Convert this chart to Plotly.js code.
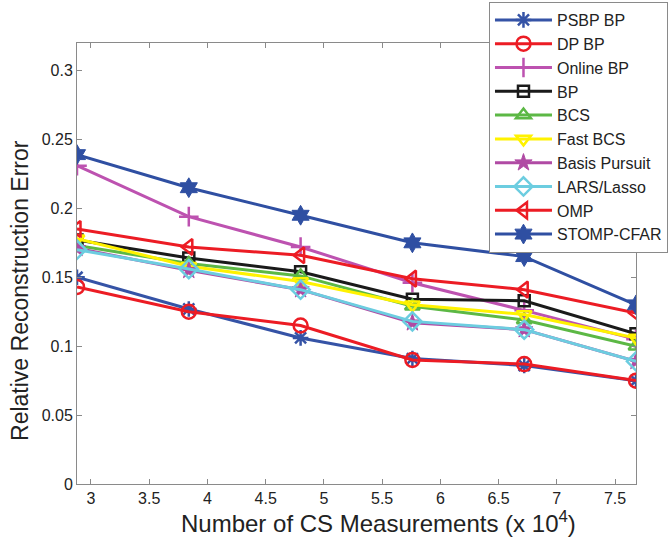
<!DOCTYPE html>
<html>
<head>
<meta charset="utf-8">
<script src="https://cdn.plot.ly/plotly-3.0.1.min.js"></script>
<style>
  html, body { margin: 0; padding: 0; background: #fff; }
  #chart { width: 668px; height: 542px; }
</style>
</head>
<body>
<div id="chart"></div>
<script>
// Number of CS measurements (units of 10^4)
const measurements = [2.88, 3.84, 4.80, 5.76, 6.72, 7.68];

// Relative reconstruction error per method
const psbpBP       = [0.150, 0.127, 0.106, 0.091, 0.086, 0.075];
const dpBP         = [0.143, 0.125, 0.115, 0.090, 0.087, 0.075];
const onlineBP     = [0.231, 0.194, 0.172, 0.146, 0.126, 0.105];
const plainBP      = [0.177, 0.164, 0.154, 0.134, 0.133, 0.109];
const bcs          = [0.173, 0.160, 0.151, 0.129, 0.119, 0.100];
const fastBCS      = [0.178, 0.158, 0.147, 0.130, 0.123, 0.106];
const basisPursuit = [0.171, 0.155, 0.141, 0.117, 0.112, 0.089];
const larsLasso    = [0.170, 0.156, 0.141, 0.118, 0.112, 0.089];
const omp          = [0.185, 0.172, 0.166, 0.149, 0.141, 0.124];
const stompCFAR    = [0.239, 0.215, 0.195, 0.175, 0.165, 0.130];

const methodNames = ['PSBP BP', 'DP BP', 'Online BP', 'BP', 'BCS', 'Fast BCS',
                     'Basis Pursuit', 'LARS/Lasso', 'OMP', 'STOMP-CFAR'];
const xTickVals = [3, 3.5, 4, 4.5, 5, 5.5, 6, 6.5, 7, 7.5];
const xTickText = ['3', '3.5', '4', '4.5', '5', '5.5', '6', '6.5', '7', '7.5'];
const yTickVals = [0, 0.05, 0.1, 0.15, 0.2, 0.25, 0.3];
const yTickText = ['0', '0.05', '0.1', '0.15', '0.2', '0.25', '0.3'];
const xTitle = 'Number of CS Measurements (x 10<sup>4</sup>)';
const yTitle = 'Relative Reconstruction Error';

const series = [psbpBP, dpBP, onlineBP, plainBP, bcs, fastBCS,
                basisPursuit, larsLasso, omp, stompCFAR];

const styles = [
  { color: '#3553a6', symbol: 'asterisk-open', size: 13, mlw: 2.5 },
  { color: '#ec1c24', symbol: 'circle-open', size: 14, mlw: 2.5 },
  { color: '#bd52b0', symbol: 'cross-thin-open', size: 14, mlw: 2.5 },
  { color: '#1a1a1a', symbol: 'square-open', size: 11, mlw: 2.5 },
  { color: '#5cb845', symbol: 'triangle-up-open', size: 13, mlw: 2.5 },
  { color: '#fff200', symbol: 'triangle-down-open', size: 13, mlw: 2.5 },
  { color: '#b04aa4', symbol: 'star', size: 13, mlw: 1 },
  { color: '#6ccde0', symbol: 'diamond-open', size: 14, mlw: 2.5 },
  { color: '#ec1c24', symbol: 'triangle-left-open', size: 14, mlw: 2.5 },
  { color: '#2f4fa2', symbol: 'hexagram', size: 15, mlw: 1 }
];

const traces = series.map((ys, i) => ({
  type: 'scatter',
  mode: 'lines+markers',
  name: methodNames[i],
  x: measurements,
  y: ys,
  line: { color: styles[i].color, width: 3 },
  marker: {
    symbol: styles[i].symbol,
    size: styles[i].size,
    color: styles[i].color,
    line: { color: styles[i].color, width: styles[i].mlw }
  }
}));

const fontFamily = 'Liberation Sans, Arial, sans-serif';

const axisCommon = {
  showgrid: false,
  zeroline: false,
  showline: true,
  mirror: 'ticks',
  linecolor: '#8a8a8a',
  linewidth: 1,
  ticks: 'inside',
  ticklen: 5,
  tickcolor: '#8a8a8a',
  tickfont: { family: fontFamily, size: 16, color: '#222' }
};

const layout = {
  width: 668,
  height: 542,
  paper_bgcolor: '#fff',
  plot_bgcolor: '#fff',
  margin: { l: 77, r: 32, t: 43, b: 58, autoexpand: false },
  showlegend: true,
  legend: {
    x: 0.737, y: 1.093, xanchor: 'left', yanchor: 'top',
    itemwidth: 57,
    bgcolor: '#fff', bordercolor: '#8a8a8a', borderwidth: 1,
    font: { family: fontFamily, size: 16, color: '#222' }
  },
  xaxis: Object.assign({}, axisCommon, {
    range: [2.88, 7.68],
    tickvals: xTickVals,
    ticktext: xTickText
  }),
  yaxis: Object.assign({}, axisCommon, {
    range: [0, 0.32],
    tickvals: yTickVals,
    ticktext: yTickText
  }),
  annotations: [
    {
      text: xTitle, xref: 'paper', yref: 'paper',
      x: 0.5385, y: -0.086, xanchor: 'center', yanchor: 'middle',
      showarrow: false,
      font: { family: fontFamily, size: 24, color: '#222' }
    },
    {
      text: yTitle, xref: 'paper', yref: 'paper',
      x: -0.102, y: 0.44, xanchor: 'center', yanchor: 'middle',
      textangle: -90, showarrow: false,
      font: { family: fontFamily, size: 23, color: '#222' }
    }
  ]
};

Plotly.newPlot('chart', traces, layout, { displayModeBar: false, staticPlot: true });
</script>
</body>
</html>
